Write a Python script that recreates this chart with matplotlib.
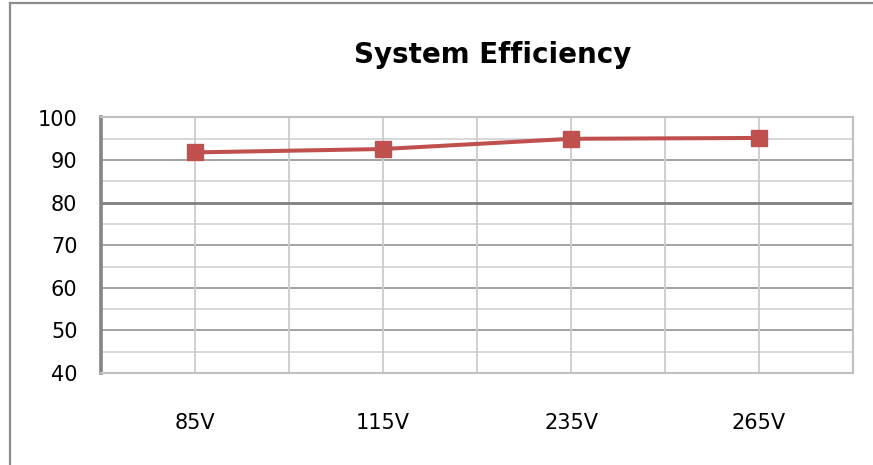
import matplotlib
matplotlib.use("Agg")
import matplotlib.pyplot as plt
from matplotlib.lines import Line2D

categories = ["85V", "115V", "235V", "265V"]
efficiency = [91.8, 92.6, 95.0, 95.2]
y_ticks = [40, 50, 60, 70, 80, 90, 100]
title = "System Efficiency"

W, H = 873, 465
fig = plt.figure(figsize=(W / 100, H / 100), dpi=100)
fig.patch.set_facecolor("white")

L, R, T, B = 101, 853, 117.5, 373
ax = fig.add_axes([L / W, 1 - B / H, (R - L) / W, (B - T) / H])
ax.set_xlim(-0.5, len(categories) - 0.5)
ax.set_ylim(40, 100)

# grid lines
for v in range(45, 100, 10):
    ax.axhline(v, color="#d4d4d4", lw=1.3, zorder=1)
for v in y_ticks[1:-1]:
    if v == 80:
        ax.axhline(v, color="#7f7f7f", lw=2.0, zorder=2)
    else:
        ax.axhline(v, color="#9c9c9c", lw=1.3, zorder=1)
for i in range(1, len(categories) * 2):
    ax.axvline(-0.5 + i * 0.5, color="#cccccc", lw=1.3, zorder=1)

for s in ["top", "right", "bottom"]:
    ax.spines[s].set_color("#c0c0c0")
    ax.spines[s].set_linewidth(1.5)
ax.spines["left"].set_color("#858585")
ax.spines["left"].set_linewidth(2.6)

x = list(range(len(categories)))
ax.plot(x, efficiency, color="#C0504D", lw=2.9, marker="s", markersize=11.5,
        markerfacecolor="#C0504D", markeredgecolor="#C0504D", zorder=5, clip_on=False)

ax.set_xticks(x)
ax.set_xticklabels(categories)
ax.set_yticks(y_ticks)
ax.tick_params(axis="both", length=0, labelsize=15, colors="#000000")
ax.tick_params(axis="y", pad=17)
ax.tick_params(axis="x", pad=29)
for lab in ax.get_xticklabels() + ax.get_yticklabels():
    lab.set_fontfamily("DejaVu Sans")

fig.text(493 / W, 1 - 55 / H, title, ha="center", va="center",
         fontsize=20, fontweight="bold", family="DejaVu Sans")

# chart border
fig.add_artist(Line2D([10 / W, 10 / W], [0, 1 - 3 / H], transform=fig.transFigure,
                      color="#8c8c8c", lw=1.6))
fig.add_artist(Line2D([10 / W, 1], [1 - 3 / H, 1 - 3 / H], transform=fig.transFigure,
                      color="#8c8c8c", lw=1.6))

fig.savefig("out.png", dpi=100)
